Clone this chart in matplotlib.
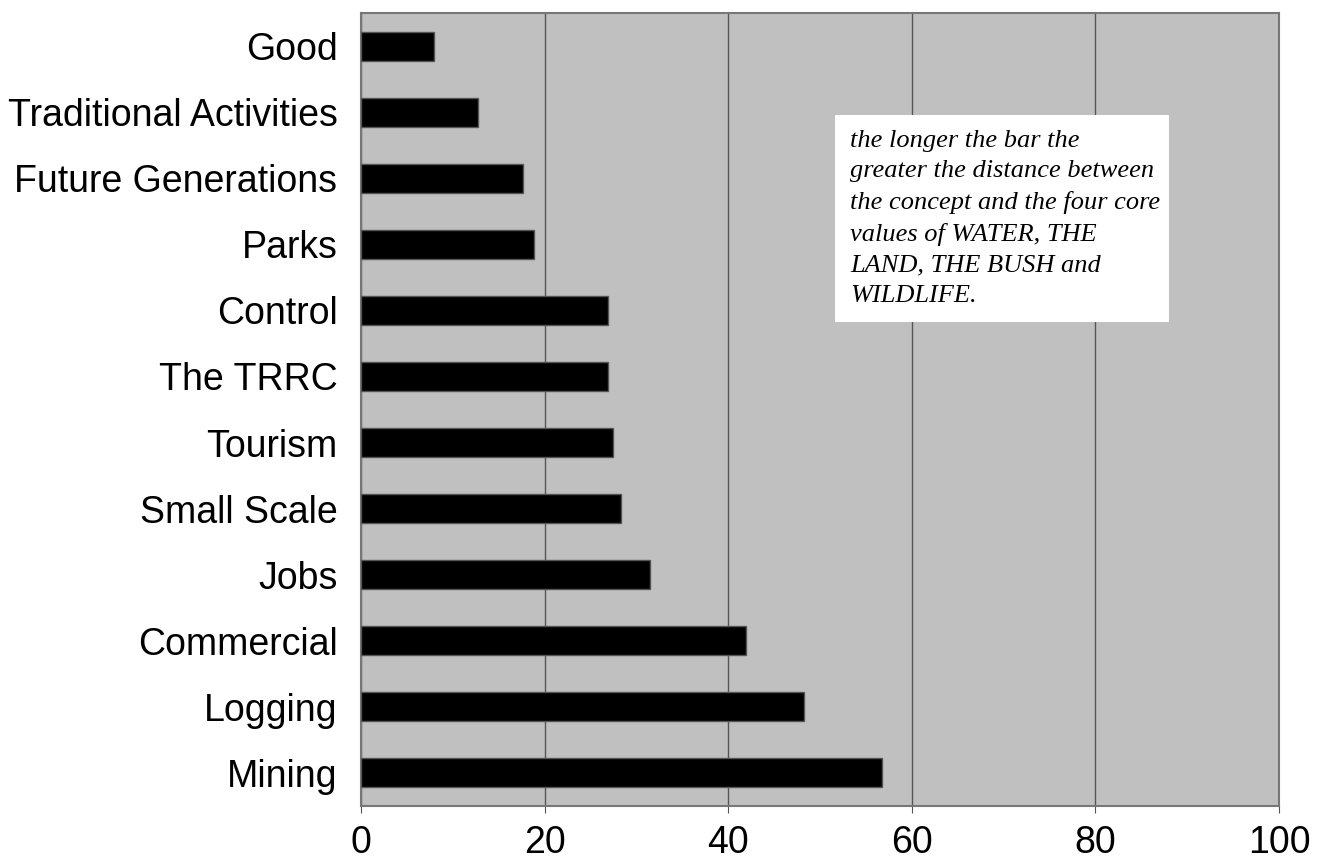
import numpy as np
import matplotlib.pyplot as plt
from matplotlib.patches import Rectangle

categories = ['Good', 'Traditional Activities', 'Future Generations', 'Parks',
              'Control', 'The TRRC', 'Tourism', 'Small Scale', 'Jobs',
              'Commercial', 'Logging', 'Mining']
values = [7.9, 12.7, 17.6, 18.8, 26.9, 26.9, 27.4, 28.3, 31.5, 41.9, 48.3, 56.7]

note = ("the longer the bar the\n"
        "greater the distance between\n"
        "the concept and the four core\n"
        "values of WATER, THE\n"
        "LAND, THE BUSH and\n"
        "WILDLIFE.")

plt.rcParams["font.family"] = "Liberation Sans"

fig = plt.figure(figsize=(13.22, 8.63), dpi=100)
ax = fig.add_axes([361/1322, 1-806/863, (1279-361)/1322, (806-13)/863])
ax.set_facecolor('#c0c0c0')

y = np.arange(len(categories))
ax.barh(y, values, height=0.44, color='black', edgecolor='#555555', linewidth=1.0, zorder=3)

ax.set_xlim(0, 100)
ax.set_ylim(len(categories)-0.5, -0.5)
ax.set_xticks(np.arange(0, 101, 20))
ax.set_yticks(y)
ax.set_yticklabels(categories)
ax.tick_params(axis='x', labelsize=27, length=5, color='#555555', pad=9)
ax.tick_params(axis='y', labelsize=27, length=0, pad=17)
ax.xaxis.grid(True, color='#555555', linewidth=1.0, zorder=1)
for s in ax.spines.values():
    s.set_color('#777777')
    s.set_linewidth(1.5)

# note box
ax.add_patch(Rectangle((0.516, 0.610), 0.364, 0.261, transform=ax.transAxes,
                       facecolor='white', edgecolor='none', zorder=5))
ax.text(0.533, 0.853, note, transform=ax.transAxes, va='top', ha='left',
        family='Liberation Serif', style='italic', fontsize=19, linespacing=1.5,
        zorder=6)

plt.savefig('out.png', dpi=100)
